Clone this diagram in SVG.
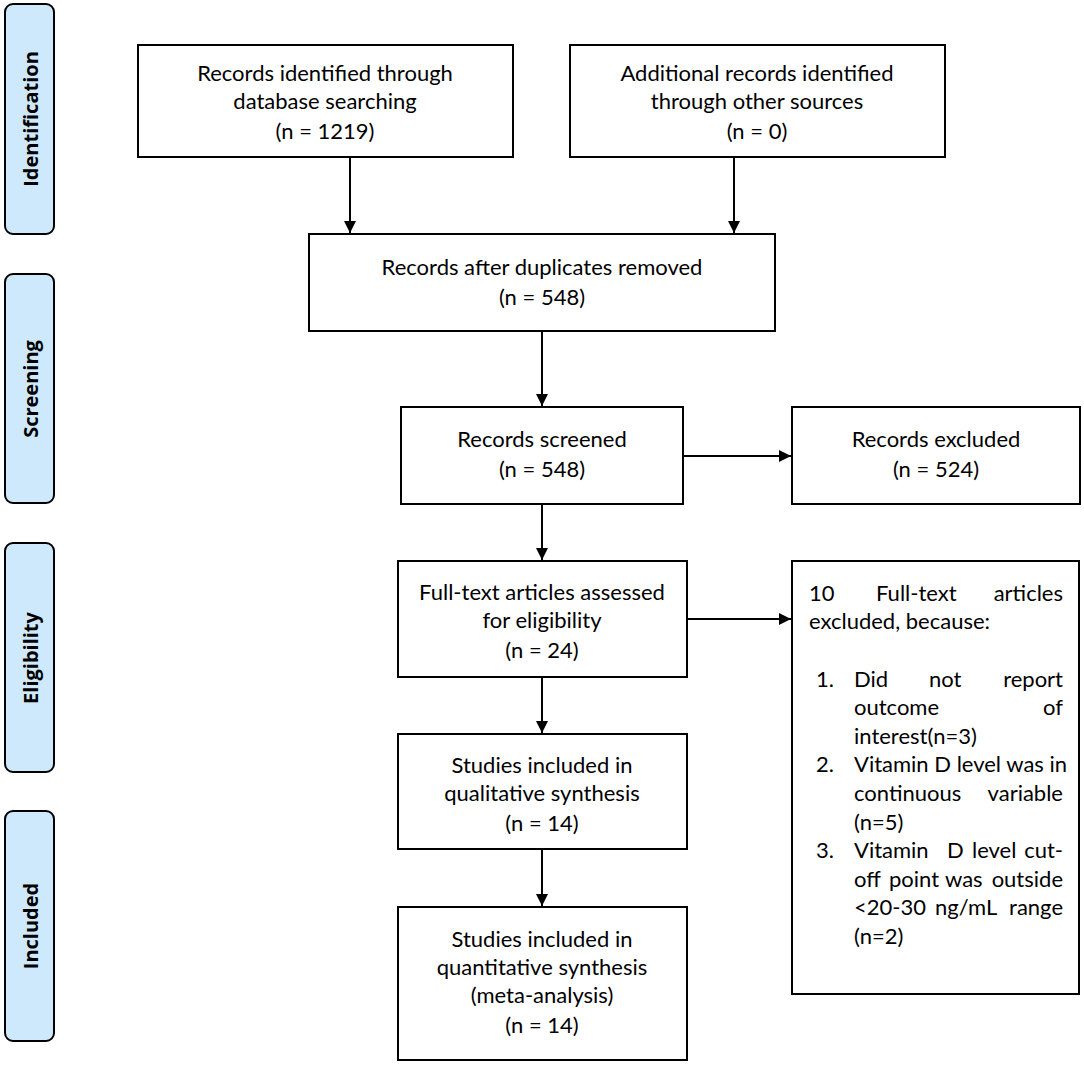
<svg xmlns="http://www.w3.org/2000/svg" width="1084" height="1066" viewBox="0 0 1084 1066">
<defs>
<marker id="ah" viewBox="0 0 12 12" refX="12" refY="6" markerWidth="12" markerHeight="12" markerUnits="userSpaceOnUse" orient="auto">
<path d="M0,0 L12,6 L0,12 z" fill="#000"/>
</marker>
<style>
.box{fill:#fff;stroke:#000;stroke-width:2}
.pill{fill:#cde9fb;stroke:#000;stroke-width:2}
.t{font-family:Lato,"Liberation Sans",sans-serif;font-size:22px;fill:#000;text-anchor:middle}
.l{font-family:Lato,"Liberation Sans",sans-serif;font-size:22px;fill:#000}
.e{font-family:Lato,"Liberation Sans",sans-serif;font-size:22px;fill:#000;text-anchor:end}
.s{font-family:"Open Sans","DejaVu Sans",sans-serif;font-size:20px;font-weight:bold;fill:#000;text-anchor:middle}
.c{stroke:#000;stroke-width:2;fill:none;marker-end:url(#ah)}
</style>
</defs>
<rect width="1084" height="1066" fill="#fff"/>
<g id="stage-identification"><rect class="pill" x="5" y="4" width="49" height="230" rx="8"/><text class="s" transform="translate(38,119) rotate(-90)">Identification</text></g>
<g id="stage-screening"><rect class="pill" x="5" y="274" width="49" height="229" rx="8"/><text class="s" transform="translate(38,389) rotate(-90)">Screening</text></g>
<g id="stage-eligibility"><rect class="pill" x="5" y="543" width="49" height="229" rx="8"/><text class="s" transform="translate(38,658) rotate(-90)">Eligibility</text></g>
<g id="stage-included"><rect class="pill" x="5" y="811" width="49" height="230" rx="8"/><text class="s" transform="translate(38,926) rotate(-90)">Included</text></g>

<g id="n-database"><rect class="box" x="138" y="45" width="375" height="112"/>
<text class="t" x="325" y="81">Records identified through</text>
<text class="t" x="325" y="109">database searching</text>
<text class="t" x="325" y="139">(n = 1219)</text></g>
<g id="n-other"><rect class="box" x="570" y="45" width="375" height="112"/>
<text class="t" x="757" y="81">Additional records identified</text>
<text class="t" x="757" y="109">through other sources</text>
<text class="t" x="757" y="139">(n = 0)</text></g>
<g id="n-dupes"><rect class="box" x="309" y="234" width="466" height="97"/>
<text class="t" x="542" y="275">Records after duplicates removed</text>
<text class="t" x="542" y="305">(n = 548)</text></g>
<g id="n-screened"><rect class="box" x="401" y="407" width="282" height="97"/>
<text class="t" x="542" y="447">Records screened</text>
<text class="t" x="542" y="477">(n = 548)</text></g>
<g id="n-excluded"><rect class="box" x="792" y="407" width="288" height="97"/>
<text class="t" x="936" y="447">Records excluded</text>
<text class="t" x="936" y="477">(n = 524)</text></g>
<g id="n-fulltext"><rect class="box" x="398" y="561" width="289" height="116"/>
<text class="t" x="542" y="600">Full-text articles assessed</text>
<text class="t" x="542" y="628">for eligibility</text>
<text class="t" x="542" y="658">(n = 24)</text></g>
<g id="n-qual"><rect class="box" x="398" y="734" width="289" height="115"/>
<text class="t" x="542" y="773">Studies included in</text>
<text class="t" x="542" y="801">qualitative synthesis</text>
<text class="t" x="542" y="831">(n = 14)</text></g>
<g id="n-quant"><rect class="box" x="398" y="907" width="289" height="153"/>
<text class="t" x="542" y="947">Studies included in</text>
<text class="t" x="542" y="975">quantitative synthesis</text>
<text class="t" x="542" y="1003">(meta-analysis)</text>
<text class="t" x="542" y="1033">(n = 14)</text></g>
<g id="n-ftexcluded"><rect class="box" x="792" y="561" width="287" height="433"/>
<text class="l" x="809" y="601">10</text><text class="l" x="876" y="601">Full-text</text><text class="e" x="1063" y="601">articles</text>
<text class="l" x="809" y="629">excluded, because:</text>
<text class="l" x="816" y="687">1.</text>
<text class="l" x="854" y="687">Did</text><text class="l" x="929" y="687">not</text><text class="e" x="1063" y="687">report</text>
<text class="l" x="854" y="715">outcome</text><text class="e" x="1063" y="715">of</text>
<text class="l" x="854" y="744">interest(n=3)</text>
<text class="l" x="816" y="772">2.</text>
<text class="l" x="854" y="772">Vitamin D level was in</text>
<text class="l" x="854" y="801">continuous</text><text class="e" x="1063" y="801">variable</text>
<text class="l" x="854" y="830">(n=5)</text>
<text class="l" x="816" y="858">3.</text>
<text class="l" x="854" y="858">Vitamin</text><text class="l" x="947" y="858">D</text><text class="l" x="972" y="858">level</text><text class="e" x="1063" y="858">cut-</text>
<text class="l" x="854" y="887">off</text><text class="l" x="889" y="887">point</text><text class="l" x="945" y="887">was</text><text class="e" x="1063" y="887">outside</text>
<text class="l" x="854" y="915">&lt;20-30</text><text class="l" x="935" y="915">ng/mL</text><text class="e" x="1063" y="915">range</text>
<text class="l" x="854" y="944">(n=2)</text></g>

<g id="connectors">
<line class="c" x1="350" y1="157" x2="350" y2="233"/>
<line class="c" x1="734" y1="157" x2="734" y2="233"/>
<line class="c" x1="542" y1="331" x2="542" y2="406"/>
<line class="c" x1="542" y1="504" x2="542" y2="560"/>
<line class="c" x1="683" y1="456" x2="791" y2="456"/>
<line class="c" x1="687" y1="619" x2="791" y2="619"/>
<line class="c" x1="542" y1="677" x2="542" y2="733"/>
<line class="c" x1="542" y1="849" x2="542" y2="906"/>
</g>
</svg>
